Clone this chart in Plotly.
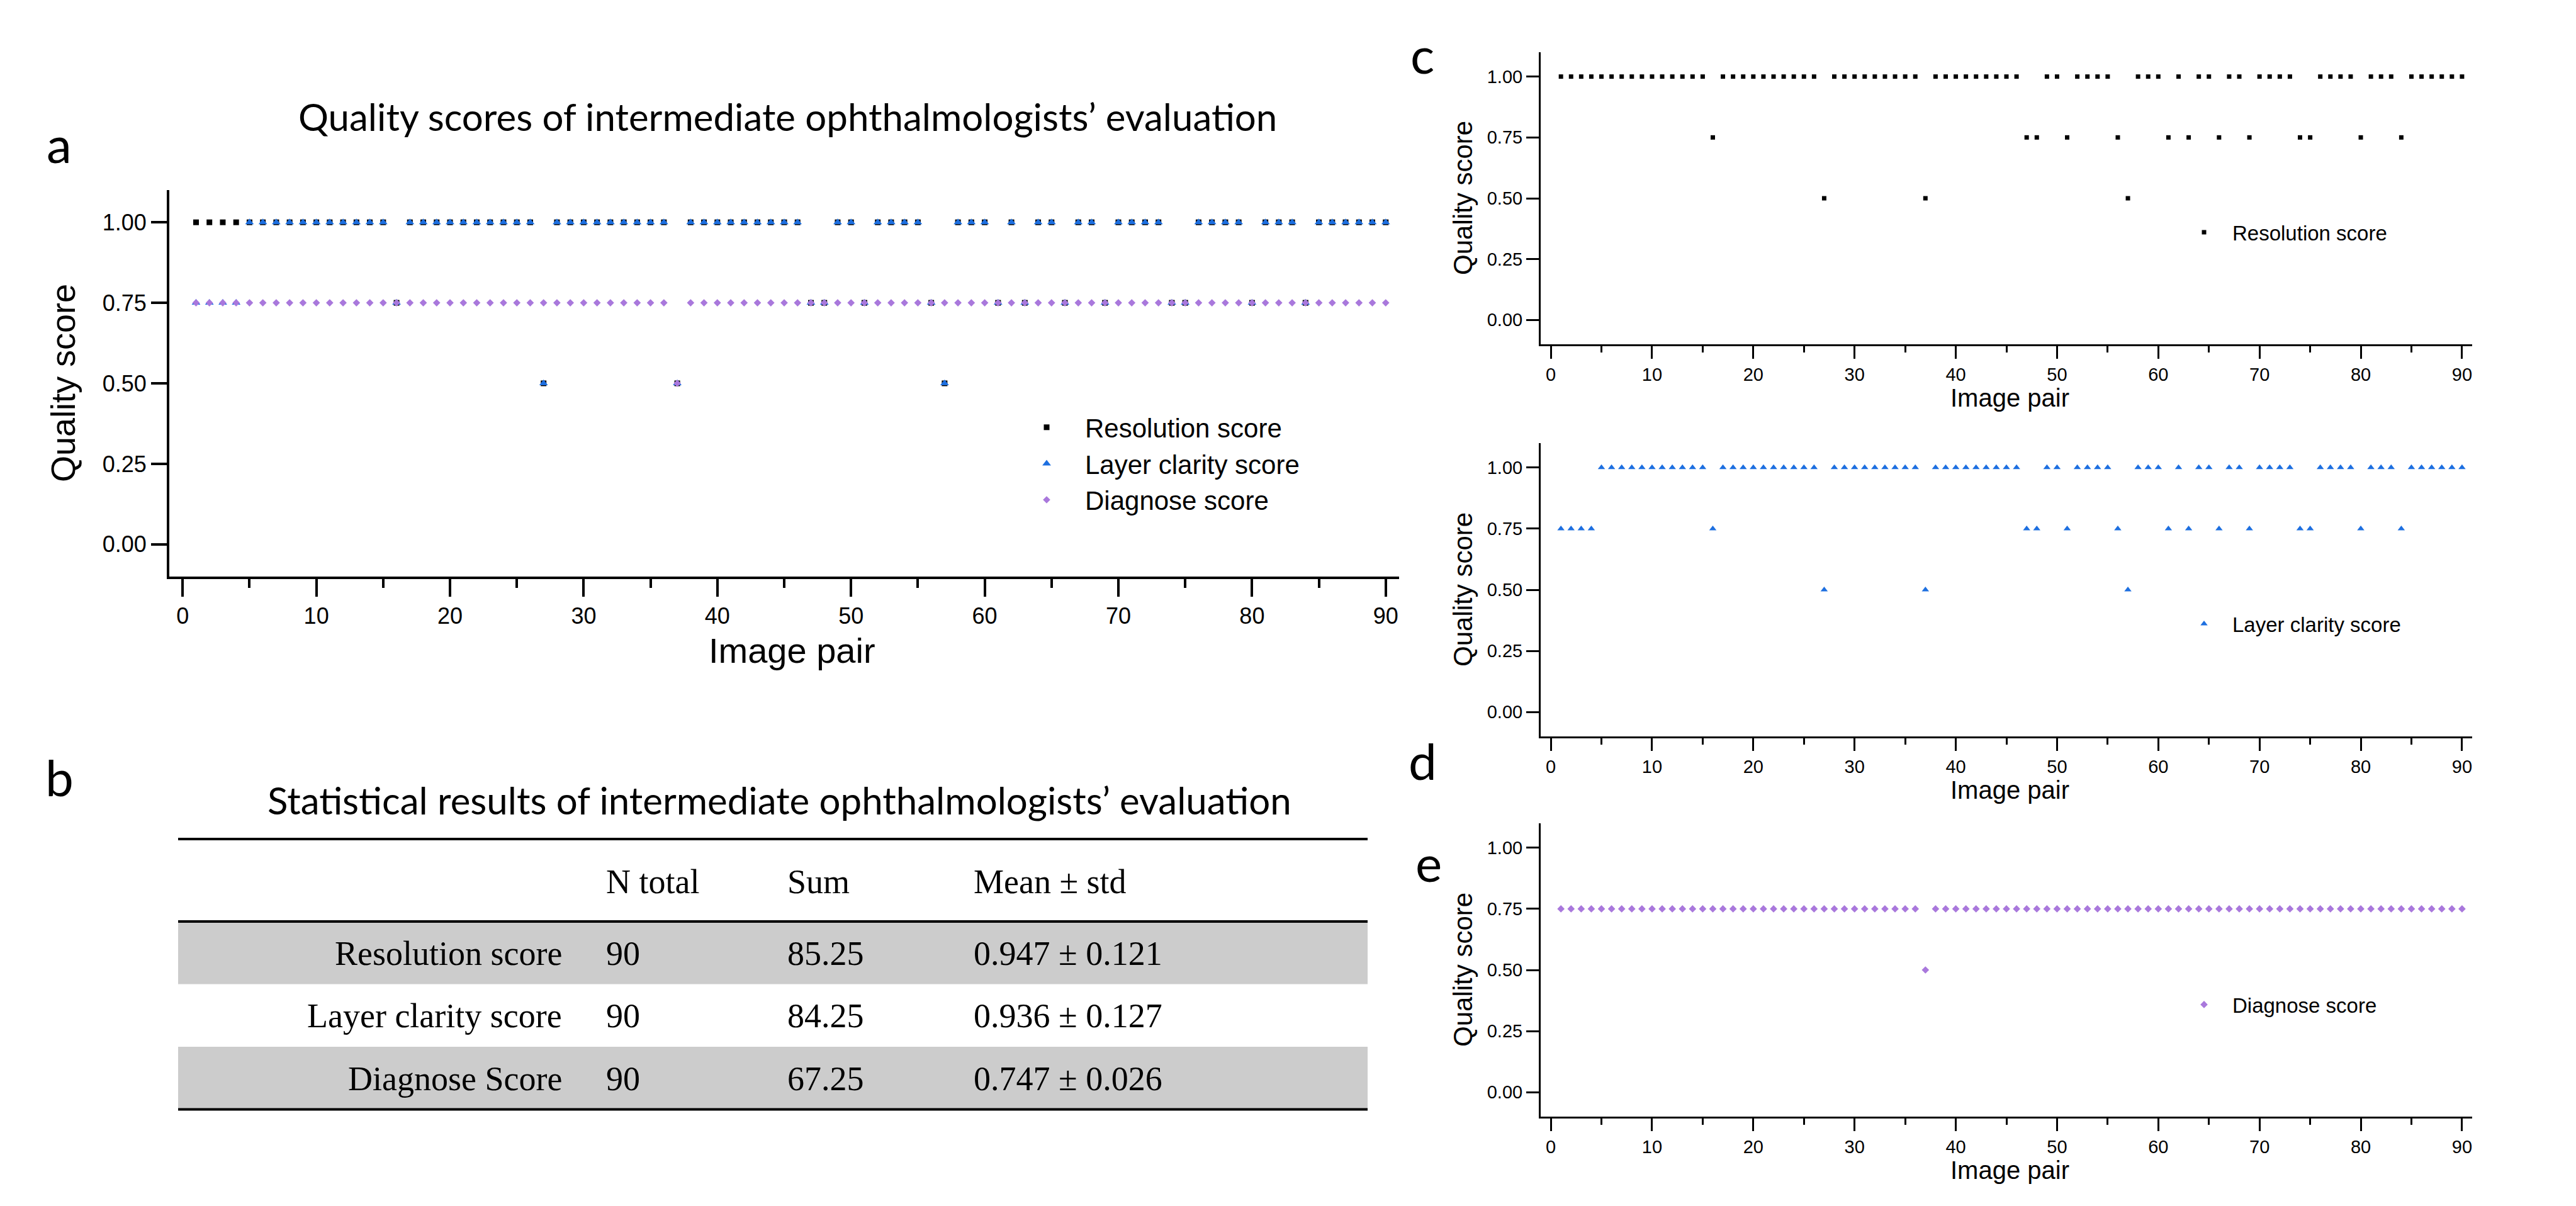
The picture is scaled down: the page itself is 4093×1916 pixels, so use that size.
import plotly.graph_objects as go

W, H = 4093, 1916


def PX(x):
    return x / W


def PY(y):
    return 1 - y / H


# ---------------- data ----------------
image_pair = list(range(1, 91))

resolution_score = [
    1, 1, 1, 1, 1, 1, 1, 1, 1, 1,
    1, 1, 1, 1, 1, 0.75, 1, 1, 1, 1,
    1, 1, 1, 1, 1, 1, 0.5, 1, 1, 1,
    1, 1, 1, 1, 1, 1, 0.5, 1, 1, 1,
    1, 1, 1, 1, 1, 1, 0.75, 0.75, 1, 1,
    0.75, 1, 1, 1, 1, 0.75, 0.5, 1, 1, 1,
    0.75, 1, 0.75, 1, 1, 0.75, 1, 1, 0.75, 1,
    1, 1, 1, 0.75, 0.75, 1, 1, 1, 1, 0.75,
    1, 1, 1, 0.75, 1, 1, 1, 1, 1, 1,
]

layer_clarity_score = [
    0.75, 0.75, 0.75, 0.75, 1, 1, 1, 1, 1, 1,
    1, 1, 1, 1, 1, 0.75, 1, 1, 1, 1,
    1, 1, 1, 1, 1, 1, 0.5, 1, 1, 1,
    1, 1, 1, 1, 1, 1, 0.5, 1, 1, 1,
    1, 1, 1, 1, 1, 1, 0.75, 0.75, 1, 1,
    0.75, 1, 1, 1, 1, 0.75, 0.5, 1, 1, 1,
    0.75, 1, 0.75, 1, 1, 0.75, 1, 1, 0.75, 1,
    1, 1, 1, 0.75, 0.75, 1, 1, 1, 1, 0.75,
    1, 1, 1, 0.75, 1, 1, 1, 1, 1, 1,
]

diagnose_score = [
    0.75, 0.75, 0.75, 0.75, 0.75, 0.75, 0.75, 0.75, 0.75, 0.75,
    0.75, 0.75, 0.75, 0.75, 0.75, 0.75, 0.75, 0.75, 0.75, 0.75,
    0.75, 0.75, 0.75, 0.75, 0.75, 0.75, 0.75, 0.75, 0.75, 0.75,
    0.75, 0.75, 0.75, 0.75, 0.75, 0.75, 0.5, 0.75, 0.75, 0.75,
    0.75, 0.75, 0.75, 0.75, 0.75, 0.75, 0.75, 0.75, 0.75, 0.75,
    0.75, 0.75, 0.75, 0.75, 0.75, 0.75, 0.75, 0.75, 0.75, 0.75,
    0.75, 0.75, 0.75, 0.75, 0.75, 0.75, 0.75, 0.75, 0.75, 0.75,
    0.75, 0.75, 0.75, 0.75, 0.75, 0.75, 0.75, 0.75, 0.75, 0.75,
    0.75, 0.75, 0.75, 0.75, 0.75, 0.75, 0.75, 0.75, 0.75, 0.75,
]

series_names = ["Resolution score", "Layer clarity score", "Diagnose score"]
y_ticks = [0, 0.25, 0.5, 0.75, 1.0]
x_range = [-1, 91]
y_range = [-0.1, 1.1]

table_header = ["", "N total", "Sum", "Mean \u00b1 std"]
table_rows = ["Resolution score", "Layer clarity score", "Diagnose Score"]
table_n_total = [90, 90, 90]
table_sum = [85.25, 84.25, 67.25]
table_mean = [0.947, 0.936, 0.747]
table_std = [0.121, 0.127, 0.026]

title_a = "Quality scores of intermediate ophthalmologists\u2019 evaluation"
title_b = "Statistical results of intermediate ophthalmologists\u2019 evaluation"

# ---------------- styles ----------------
BLACK = "#000000"
BLUE = "#1d6fe0"
PURPLE = "#a978dc"
SANS = "Liberation Sans, Arial, sans-serif"
SERIF = "Liberation Serif, Times New Roman, serif"
CAL = "Lato, Carlito, Calibri, sans-serif"

styles = [
    dict(symbol="square", color=BLACK),
    dict(symbol="triangle-up", color=BLUE),
    dict(symbol="diamond", color=PURPLE),
]
series = [resolution_score, layer_clarity_score, diagnose_score]

fig = go.Figure()

# panel a
a_sizes = [9, 12, 9]
for name, vals, st, sz in zip(series_names, series, styles, a_sizes):
    fig.add_trace(go.Scatter(
        x=image_pair, y=vals, mode="markers", name=name,
        marker=dict(symbol=st["symbol"], color=st["color"], size=sz, line=dict(width=0)),
        xaxis="x", yaxis="y", legend="legend", showlegend=True,
    ))

# panels c, d, e
small_sizes = [7, 10, 9]
for i, (name, vals, st, sz) in enumerate(zip(series_names, series, styles, small_sizes)):
    k = i + 2
    fig.add_trace(go.Scatter(
        x=image_pair, y=vals, mode="markers", name=name,
        marker=dict(symbol=st["symbol"], color=st["color"], size=sz, line=dict(width=0)),
        xaxis=f"x{k}", yaxis=f"y{k}", legend=f"legend{k}", showlegend=True,
    ))


def xaxis_cfg(domain, anchor, lw, tl, mtl, fs):
    return dict(
        domain=domain, anchor=anchor, range=x_range, showline=True, linewidth=lw,
        linecolor=BLACK, ticks="outside", ticklen=tl, tickwidth=lw, tickcolor=BLACK,
        tick0=0, dtick=10, showgrid=False, zeroline=False,
        minor=dict(dtick=5, tick0=0, ticks="outside", ticklen=mtl, tickwidth=lw,
                   tickcolor=BLACK, showgrid=False),
        tickfont=dict(family=SANS, size=fs, color=BLACK), fixedrange=True,
    )


def yaxis_cfg(domain, anchor, lw, tl, fs):
    return dict(
        domain=domain, anchor=anchor, range=y_range, showline=True, linewidth=lw,
        linecolor=BLACK, ticks="outside", ticklen=tl, tickwidth=lw, tickcolor=BLACK,
        tickvals=y_ticks, tickformat=".2f", showgrid=False, zeroline=False,
        tickfont=dict(family=SANS, size=fs, color=BLACK), fixedrange=True,
    )


small_panels = [  # (top, bottom) in pixels
    (75, 539),
    (696, 1162),
    (1300, 1766),
]

layout = dict(
    width=W, height=H, autosize=False,
    margin=dict(l=0, r=0, t=0, b=0),
    paper_bgcolor="white", plot_bgcolor="white",
    font=dict(family=SANS, color=BLACK),
    xaxis=xaxis_cfg([PX(261), PX(2215)], "y", 4, 28, 14, 36),
    yaxis=yaxis_cfg([PY(908), PY(294)], "x", 4, 25, 36),
)
for i, (top, bot) in enumerate(small_panels):
    k = i + 2
    layout[f"xaxis{k}"] = xaxis_cfg([PX(2440), PX(3920)], f"y{k}", 3, 20, 10, 29)
    layout[f"yaxis{k}"] = yaxis_cfg([PY(bot), PY(top)], f"x{k}", 3, 20, 29)

# legends
layout["legend"] = dict(
    x=PX(1594), y=PY(637), xanchor="left", yanchor="top",
    font=dict(family=SANS, size=42, color=BLACK), bgcolor="rgba(0,0,0,0)",
    itemwidth=112, tracegroupgap=0,
)
legend_rows = [370, 992, 1597]
for i, yc in enumerate(legend_rows):
    k = i + 2
    layout[f"legend{k}"] = dict(
        x=PX(3449), y=PY(yc - 37), xanchor="left", yanchor="top",
        font=dict(family=SANS, size=33, color=BLACK), bgcolor="rgba(0,0,0,0)",
        itemwidth=80,
    )

annotations = []


def text(x, y, s, size, family, xanchor="center", yanchor="middle", angle=0):
    annotations.append(dict(
        x=PX(x), y=PY(y), xref="paper", yref="paper", text=s, showarrow=False,
        xanchor=xanchor, yanchor=yanchor, textangle=angle,
        font=dict(family=family, size=size, color=BLACK),
    ))


# panel labels
text(86, 220, "a", 80, CAL)
text(86, 1226, "b", 80, CAL)
text(2252, 78, "c", 80, CAL)
text(2252, 1200, "d", 80, CAL)
text(2262, 1362, "e", 80, CAL)

# panel a titles
text(1243, 177, title_a, 60, CAL)
text(92, 601, "Quality score", 54, SANS, angle=-90)
text(1250, 1025, "Image pair", 56, SANS)

# panels c,d,e axis titles
for top, bot in small_panels:
    text(2316, (top + bot) / 2, "Quality score", 42, SANS, angle=-90)
    text(3185, bot + 85, "Image pair", 40, SANS)

# ---------------- table (panel b) ----------------
shapes = []
tbl_left, tbl_right = 275, 2165
tbl_top, hdr_bottom = 1325, 1456
row_h = 99.5
col_x = [887, 953, 1241, 1537]

text(1230, 1263, title_b, 60, CAL)

for r in range(len(table_rows)):
    y0 = hdr_bottom + r * row_h
    if r % 2 == 0:
        shapes.append(dict(type="rect", xref="paper", yref="paper",
                           x0=PX(tbl_left), x1=PX(tbl_right), y0=PY(y0 + row_h), y1=PY(y0),
                           fillcolor="#cccccc", line=dict(width=0), layer="below"))

for y in [tbl_top, hdr_bottom, hdr_bottom + row_h * len(table_rows)]:
    shapes.append(dict(type="line", xref="paper", yref="paper",
                       x0=PX(tbl_left), x1=PX(tbl_right), y0=PY(y), y1=PY(y),
                       line=dict(color=BLACK, width=4)))

hdr_y = (tbl_top + hdr_bottom) / 2 + 2
for j, h in enumerate(table_header):
    if h:
        text(col_x[j], hdr_y, h, 54, SERIF, xanchor="left")

for r, lab in enumerate(table_rows):
    yc = hdr_bottom + r * row_h + row_h / 2 + 1
    text(col_x[0], yc, lab, 54, SERIF, xanchor="right")
    text(col_x[1], yc, str(table_n_total[r]), 54, SERIF, xanchor="left")
    text(col_x[2], yc, f"{table_sum[r]:.2f}", 54, SERIF, xanchor="left")
    text(col_x[3], yc, f"{table_mean[r]:.3f} \u00b1 {table_std[r]:.3f}", 54, SERIF, xanchor="left")

layout["annotations"] = annotations
layout["shapes"] = shapes
fig.update_layout(**layout)

fig.write_html("out.html", config={"displayModeBar": False})
